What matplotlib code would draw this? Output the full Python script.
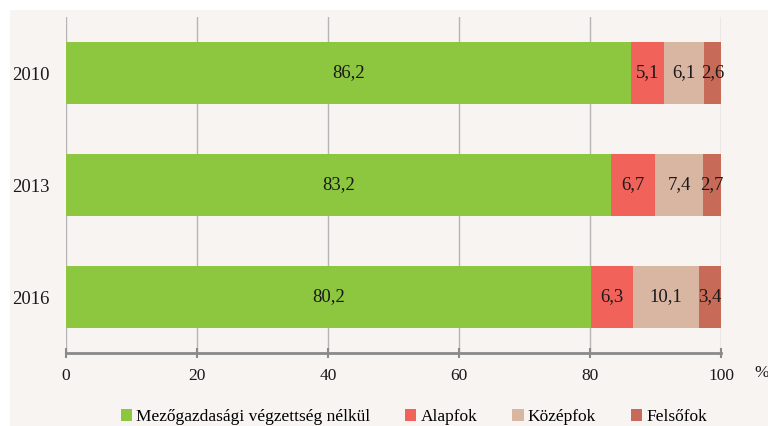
import matplotlib
matplotlib.use("Agg")
import matplotlib.pyplot as plt
from matplotlib.patches import Rectangle

years = ["2010", "2013", "2016"]
series_names = ["Mezőgazdasági végzettség nélkül", "Alapfok", "Középfok", "Felsőfok"]
no_training = [86.2, 83.2, 80.2]
basic = [5.1, 6.7, 6.3]
secondary = [6.1, 7.4, 10.1]
higher = [2.6, 2.7, 3.4]
x_ticks = [0, 20, 40, 60, 80, 100]

colors = ["#8dc63f", "#f0625a", "#d8b6a2", "#c86a58"]
bg = "#f7f4f1"
ink = "#1a1a1a"

plt.rcParams["font.family"] = ["Liberation Serif", "DejaVu Serif"]

fig = plt.figure(figsize=(7.68, 4.26), dpi=100)
fig.patch.set_facecolor("white")
fig.patches.append(Rectangle((10 / 768, 0), 1, 1 - 10 / 426, transform=fig.transFigure,
                             facecolor=bg, edgecolor="none", zorder=-10))

ax = fig.add_axes([66 / 768, 1 - 353 / 426, (721 - 66) / 768, (353 - 17) / 426])
ax.patch.set_alpha(0)

series = [no_training, basic, secondary, higher]
ypos = list(range(len(years)))
left = [0.0] * len(years)
for name, vals, col in zip(series_names, series, colors):
    bars = ax.barh(ypos, vals, left=left, height=0.55, color=col, label=name, zorder=3)
    for b, v in zip(bars, vals):
        ax.text(b.get_x() + b.get_width() / 2, b.get_y() + b.get_height() / 2,
                f"{v:.1f}".replace(".", ","), ha="center", va="center",
                fontsize=13.5, color=ink, zorder=4)
    left = [l + v for l, v in zip(left, vals)]

ax.set_xlim(0, 100)
ax.set_ylim(2.5, -0.5)
ax.set_yticks(ypos)
ax.set_yticklabels(years, fontsize=13.5, color=ink)
ax.set_xticks(x_ticks)
ax.set_xticklabels([str(t) for t in x_ticks], fontsize=12.5, color=ink)
ax.tick_params(axis="y", length=0, pad=12)
ax.tick_params(axis="x", direction="inout", length=7, width=1.5, color="#8a8a8a", pad=7)
ax.grid(axis="x", color="#b5b5b5", linewidth=1, zorder=0)
for s in ["top", "right", "left"]:
    ax.spines[s].set_visible(False)
ax.spines["bottom"].set_color("#8a8a8a")
ax.spines["bottom"].set_linewidth(2)

fig.text(754 / 768, 1 - 373 / 426, "%", fontsize=12.5, color=ink, va="center", ha="left")

handles, labels = ax.get_legend_handles_labels()
fig.legend(handles, labels, loc="center", bbox_to_anchor=(414 / 768, 1 - 417 / 426),
           ncol=4, frameon=False, fontsize=12.5, handlelength=0.65, handleheight=0.65,
           handletextpad=0.25, columnspacing=2.0, borderaxespad=0, borderpad=0)

fig.savefig("out.png", dpi=100, facecolor=fig.get_facecolor())
